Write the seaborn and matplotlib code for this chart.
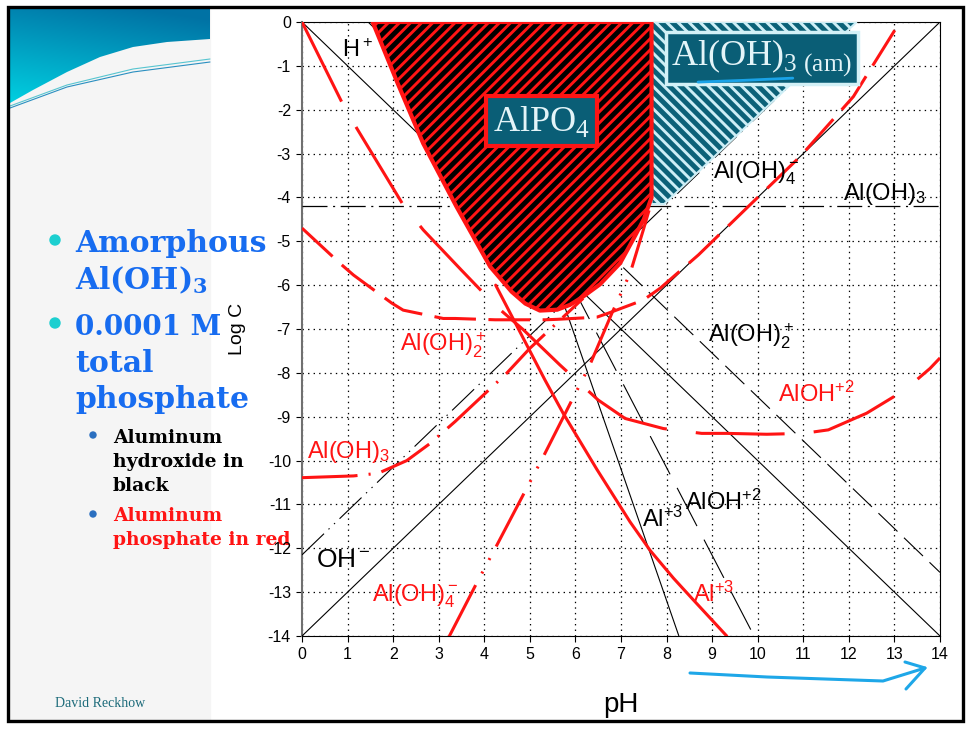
import numpy as np
import matplotlib
matplotlib.use("Agg")
import matplotlib.pyplot as plt
from matplotlib.patches import Polygon, Rectangle, Circle
import seaborn as sns

sns.set_style("white")
plt.rcParams['font.family'] = ['Liberation Sans', 'DejaVu Sans']
plt.rcParams.update({
    'mathtext.fontset': 'custom',
    'mathtext.rm': 'Liberation Sans',
    'mathtext.it': 'Liberation Sans:italic',
    'mathtext.sf': 'Liberation Serif',
    'mathtext.bf': 'DejaVu Serif:bold',
    'axes.unicode_minus': False,
    'lines.scale_dashes': False,
    'hatch.linewidth': 2.1,
    'text.color': 'black',
    'axes.labelcolor': 'black',
    'xtick.color': 'black',
    'ytick.color': 'black',
})

# axis ticks
ph_ticks = list(range(0, 15))
logc_ticks = list(range(0, -15, -1))
ph_labels = [str(v) for v in ph_ticks]
logc_labels = [str(v) for v in logc_ticks]

# --- aluminum hydroxide system (black) ---
hplus_ph = [0, 14]
hplus_logc = [0, -14]
ohminus_ph = [0, 14]
ohminus_logc = [-14, 0]
aloh3_ph = [0, 14]
aloh3_logc = [-4.2, -4.2]
aloh4_ph = [0, 12.15]
aloh4_logc = [-12.15, 0]
aloh2_ph = [1.45, 14]
aloh2_logc = [0, -12.55]
aloh_ph = [2.92, 9.92]
aloh_logc = [0, -14]
al3_ph = [3.6, 8.27]
al3_logc = [0, -14]

# --- aluminum phosphate system (red) ---
al3_red_ph = [4.25, 4.5, 5.0, 5.33, 5.73, 6.47, 7.2, 7.64, 8.15, 8.59, 9.32]
al3_red_logc = [-6.0, -6.5, -7.5, -8.16, -8.92, -10.2, -11.4, -12.05, -12.68, -13.18, -14.0]

aloh_red_ph = [0, 0.87, 1.2, 2.22, 2.66, 3.5, 4.27, 4.86, 5.66, 6.5, 7.09, 7.93,
               8.77, 9.32, 10.2, 11.0, 11.55, 12.39, 13.23, 13.78, 14]
aloh_red_logc = [0, -1.82, -2.42, -4.17, -4.74, -5.66, -6.49, -7.02, -7.82, -8.62, -9.04, -9.27,
                 -9.38, -9.38, -9.4, -9.38, -9.3, -8.92, -8.39, -7.9, -7.66]

aloh2_red_ph = [0, 0.83, 1.13, 1.97, 2.22, 3.1, 3.36, 4.24, 4.49, 5.33, 5.59, 6.47,
                6.72, 7.49, 7.86, 8.7, 9.83, 10.93, 12.1, 13.12]
aloh2_red_logc = [-4.7, -5.5, -5.77, -6.41, -6.57, -6.76, -6.76, -6.79, -6.79, -6.79, -6.78, -6.73,
                  -6.64, -6.34, -6.07, -5.31, -4.17, -3.07, -1.7, 0]

aloh4_red_ph = [3.21, 3.83, 4.27, 4.87, 5.3, 5.88, 6.3, 6.8, 7.2, 7.49, 7.67]
aloh4_red_logc = [-14.05, -12.8, -11.94, -10.75, -9.9, -8.71, -7.86, -6.64, -5.73, -4.74, -4.1]

aloh3_red_ph = [0, 1.13, 1.67, 2.3, 2.81, 3.36, 4.49, 5.0, 6.17]
aloh3_red_logc = [-10.39, -10.35, -10.29, -10.0, -9.61, -9.11, -8.01, -7.44, -6.3]

# solid phase regions
alpo4_ph = [1.55, 2.1, 2.66, 3.39, 4.13, 4.6, 4.9, 5.22, 5.6, 5.88, 6.17, 6.54, 6.98,
            7.27, 7.5, 7.67, 7.67]
alpo4_logc = [0, -1.4, -2.77, -4.21, -5.58, -6.15, -6.42, -6.58, -6.56, -6.45, -6.26, -5.98, -5.5,
              -4.95, -4.5, -4.0, 0]
am_ph = [7.67, 12.17, 7.95, 7.67]
am_logc = [0, 0, -4.15, -4.15]

RED = '#ff1414'

fig = plt.figure(figsize=(9.69, 7.30), dpi=100)
bg = fig.add_axes([0, 0, 1, 1], zorder=0)
bg.set_xlim(0, 969)
bg.set_ylim(730, 0)
bg.axis('off')

ax = fig.add_axes([302 / 969, 1 - 636 / 730, 638 / 969, 614 / 730], zorder=1)
ax.set_facecolor('none')


def curve(x, y, color, lw, ls='-', z=3):
    sns.lineplot(x=x, y=y, sort=False, estimator=None, color=color,
                 lw=lw, linestyle=ls, ax=ax, zorder=z)


# black lines
curve(hplus_ph, hplus_logc, 'black', 0.8)
curve(ohminus_ph, ohminus_logc, 'black', 0.8)
curve(aloh3_ph, aloh3_logc, 'black', 0.9, (0, (18, 4, 1.5, 4)))
curve(aloh4_ph, aloh4_logc, 'black', 0.8, (0, (22, 4.5, 1, 4.5, 1, 4.5)))
curve(aloh2_ph, aloh2_logc, 'black', 0.8, (0, (19, 6.5)))
curve(aloh_ph, aloh_logc, 'black', 0.8, (0, (31, 11)))
curve(al3_ph, al3_logc, 'black', 0.8)

# red lines
curve(al3_red_ph, al3_red_logc, RED, 2.2)
curve(aloh_red_ph, aloh_red_logc, RED, 2.2, (0, (64, 21)))
curve(aloh2_red_ph, aloh2_red_logc, RED, 2.2, (0, (30, 9)))
curve(aloh4_red_ph, aloh4_red_logc, RED, 2.2, (0, (43, 9.5, 1.5, 9.5, 1.5, 9.5)))
curve(aloh3_red_ph, aloh3_red_logc, RED, 2.2, (0, (40, 8, 1.5, 8)))

# solid regions
ax.fill(am_ph, am_logc, facecolor='#0b6178', edgecolor='#cdeef6', hatch='\\\\\\',
        lw=1.5, zorder=4)
ax.fill(alpo4_ph, alpo4_logc, facecolor='black', edgecolor=RED, hatch='///',
        lw=3, joinstyle='round', zorder=5)

ax.text(5.25, -2.26, 'AlPO$_\\mathsf{4}$', family='Liberation Serif', fontsize=26,
        color='#e3f4f8', ha='center', va='center', zorder=8,
        bbox=dict(boxstyle='square,pad=0.2', fc='#0a5e76', ec=RED, lw=3))
ax.text(10.09, -0.82, 'Al(OH)$_{\\mathsf{3\\ (am)}}$', family='Liberation Serif', fontsize=26,
        color='#e3f4f8', ha='center', va='center', zorder=8,
        bbox=dict(boxstyle='square,pad=0.15', fc='#0a5e76', ec='#d3f1f7', lw=2.5))
ax.plot([8.69, 9.7, 10.77], [-1.37, -1.33, -1.28], color='#1aa3e8', lw=2, zorder=9)

# species labels
black_labels = ['H$^+$', 'Al(OH)$_4^-$', 'Al(OH)$_3$', 'Al(OH)$_2^+$', 'AlOH$^{+2}$',
                'Al$^{+3}$', 'OH$^-$']
red_labels = ['Al(OH)$_2^+$', 'Al(OH)$_3$', 'AlOH$^{+2}$', 'Al(OH)$_4^-$', 'Al$^{+3}$']
black_pos = [(0.88, -0.8, 17), (9.01, -3.56, 17), (11.88, -4.06, 17), (8.92, -7.31, 17),
             (8.40, -11.13, 17), (7.45, -11.51, 17), (0.31, -12.42, 19)]
red_pos = [(2.15, -7.52), (0.12, -9.93), (10.45, -8.66), (1.53, -13.22), (8.59, -13.22)]
for lab, (x, y, fs) in zip(black_labels, black_pos):
    ax.text(x, y, lab, fontsize=fs, color='black', va='baseline', zorder=6)
for lab, (x, y) in zip(red_labels, red_pos):
    ax.text(x, y, lab, fontsize=17, color=RED, va='baseline', zorder=6)

ax.set_xlim(0, 14)
ax.set_ylim(-14, 0)
ax.set_xticks(ph_ticks, ph_labels)
ax.set_yticks(logc_ticks, logc_labels)
ax.grid(True, color='black', ls=(0, (1, 3)), lw=0.9)
ax.tick_params(direction='out', length=4, width=0.8, labelsize=11.5, pad=4,
               bottom=True, left=True)
for s in ['top', 'right', 'bottom']:
    ax.spines[s].set_color('black')
    ax.spines[s].set_linewidth(0.8)
ax.spines['left'].set_color('#707070')
ax.spines['left'].set_linewidth(1.5)
ax.set_xlabel('pH', fontsize=20)
ax.set_ylabel('Log C', fontsize=14)
ax.xaxis.set_label_coords(0.5, -0.092)
ax.yaxis.set_label_coords(-0.087, 0.5)

# slide decoration
bg.add_patch(Rectangle((10, 8), 200, 713, color='#f5f5f5', zorder=0))
gy, gx = np.mgrid[0:1:120j, 0:1:220j]
t = np.clip(0.85 * gy + 0.25 * (1 - gx) - 0.1, 0, 1)
top = np.array([0x00, 0x72, 0xa4]) / 255
bot = np.array([0x00, 0xe4, 0xee]) / 255
img = top + (bot - top) * t[..., None]
im = bg.imshow(img, extent=(10, 230, 128, 8), origin='upper', aspect='auto', zorder=1)
deco = [(10, 8), (210, 8), (210, 39), (167, 42), (133, 47), (100, 57), (67, 72), (33, 90), (10, 103)]
clip = Polygon(deco, closed=True, transform=bg.transData, facecolor='none', edgecolor='none')
bg.add_patch(clip)
im.set_clip_path(clip)
bg.plot([10, 67, 133, 210], [108, 87, 72, 62], color='#2a8fc0', lw=0.8, zorder=2)
bg.plot([10, 67, 133, 210], [106, 85, 69, 59], color='#57c5d0', lw=0.8, zorder=2)
bg.add_patch(Rectangle((8, 7), 955, 714, fill=False, ec='black', lw=2.4, zorder=10))

BLUE = '#176cf0'
serif = 'DejaVu Serif'
bg.add_patch(Circle((55, 240), 5, color='#1ccfd0', zorder=3))
bg.add_patch(Circle((55, 323), 5, color='#1ccfd0', zorder=3))
bg.add_patch(Circle((93, 435), 3, color='#2a6fc0', zorder=3))
bg.add_patch(Circle((93, 514), 3, color='#2a6fc0', zorder=3))
bullet_lines = [('Amorphous', 252, 21.5), ('Al(OH)$_\\mathbf{3}$', 289, 21.5),
                ('0.0001 M', 335, 20), ('total', 372, 21.5), ('phosphate', 408, 21.5)]
for txt, yb, fs in bullet_lines:
    bg.text(75, yb, txt, family=serif, weight='bold', fontsize=fs, color=BLUE,
            va='baseline', zorder=5)
sub_lines = [('Aluminum', 443, 'black'), ('hydroxide in', 467, 'black'), ('black', 491, 'black'),
             ('Aluminum', 521, RED), ('phosphate in red', 545, RED)]
for txt, yb, c in sub_lines:
    bg.text(113, yb, txt, family=serif, weight='bold', fontsize=13.5, color=c,
            va='baseline', zorder=5)
bg.text(55, 707, 'David Reckhow', family='Liberation Serif', fontsize=10, color='#1d6b7a',
        va='baseline', zorder=5)

# hand drawn arrow
bg.plot([690, 767, 883, 925], [673, 677, 681, 668], color='#1ea7e8', lw=2.2, zorder=5)
bg.plot([905, 925, 906], [662, 668, 689], color='#1ea7e8', lw=2.2, zorder=5)

fig.savefig('out.png', dpi=100)
